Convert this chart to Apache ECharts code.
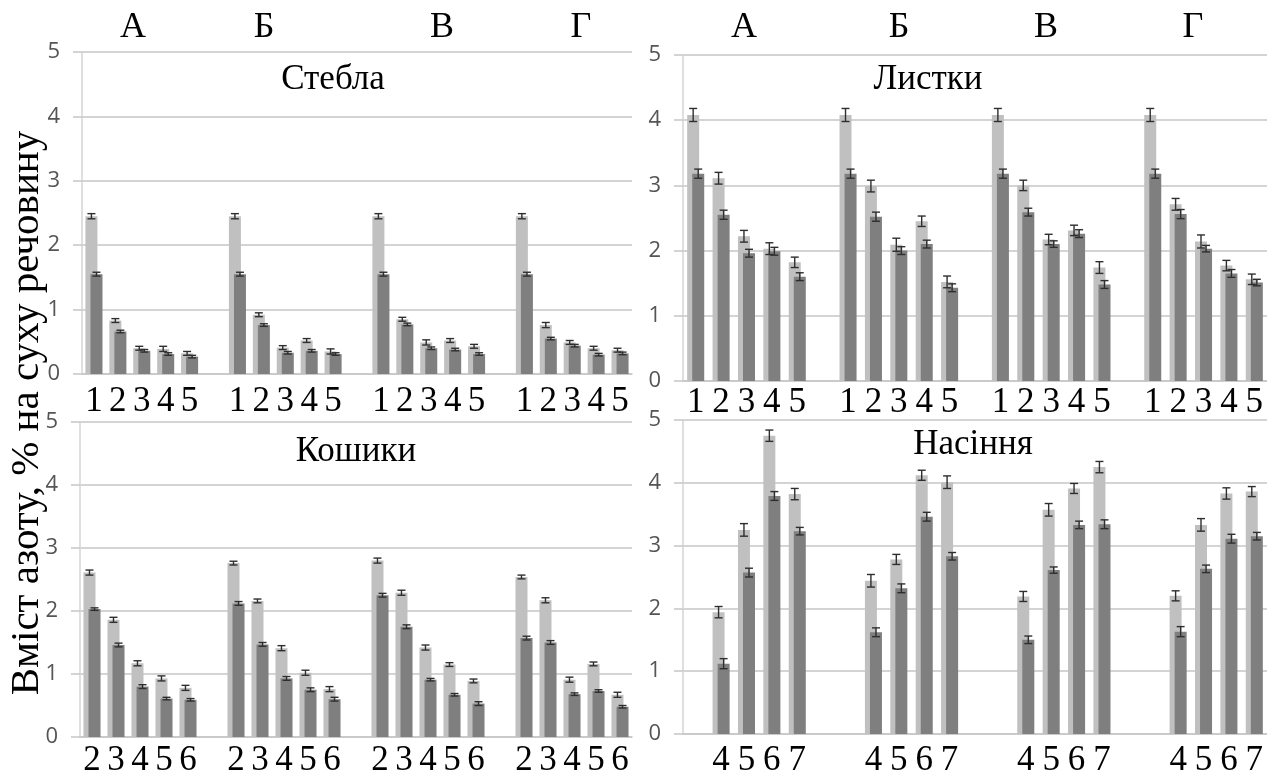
<!DOCTYPE html>
<html><head><meta charset="utf-8">
<script src="https://cdn.jsdelivr.net/npm/echarts@6/dist/echarts.min.js"></script>
<style>html,body{margin:0;padding:0;background:#fff}#c{width:1267px;height:778px}</style>
</head><body><div id="c"></div>
<script>
// ---------- data ----------
const groups = ['А', 'Б', 'В', 'Г'];
const yTitle = 'Вміст азоту, % на суху речовину';
const panelNames = ['Стебла', 'Листки', 'Кошики', 'Насіння'];
const yTicks = [0, 1, 2, 3, 4, 5];

// Стебла (stages 1-5, empty slot between groups)
const stemCats = ['1','2','3','4','5','', '1','2','3','4','5','', '1','2','3','4','5','', '1','2','3','4','5'];
const stemLight = [2.45,0.83,0.40,0.39,0.32,null, 2.45,0.92,0.41,0.52,0.35,null, 2.45,0.85,0.49,0.52,0.43,null, 2.45,0.76,0.49,0.40,0.37];
const stemDark  = [1.55,0.66,0.36,0.31,0.27,null, 1.55,0.76,0.33,0.36,0.31,null, 1.55,0.77,0.40,0.38,0.31,null, 1.55,0.55,0.44,0.30,0.32];
const stemLightErr = [0.04,0.03,0.03,0.04,0.03,null, 0.04,0.03,0.03,0.03,0.04,null, 0.04,0.03,0.04,0.03,0.03,null, 0.04,0.04,0.03,0.03,0.03];
const stemDarkErr  = [0.03,0.02,0.02,0.02,0.02,null, 0.03,0.02,0.02,0.02,0.02,null, 0.03,0.02,0.02,0.02,0.02,null, 0.03,0.02,0.02,0.02,0.02];

// Листки (stages 1-5)
const leafCats = ['1','2','3','4','5','', '1','2','3','4','5','', '1','2','3','4','5','', '1','2','3','4','5'];
const leafLight = [4.08,3.11,2.22,2.03,1.82,null, 4.08,2.99,2.09,2.45,1.52,null, 4.08,3.00,2.17,2.31,1.74,null, 4.08,2.71,2.14,1.77,1.56];
const leafDark  = [3.18,2.55,1.96,1.99,1.60,null, 3.18,2.52,2.00,2.10,1.43,null, 3.18,2.59,2.10,2.26,1.48,null, 3.18,2.56,2.03,1.65,1.51];
const leafLightErr = [0.10,0.09,0.09,0.09,0.08,null, 0.10,0.09,0.10,0.08,0.09,null, 0.10,0.08,0.08,0.08,0.09,null, 0.10,0.09,0.10,0.08,0.08];
const leafDarkErr  = [0.07,0.07,0.06,0.06,0.06,null, 0.07,0.07,0.06,0.06,0.06,null, 0.07,0.06,0.05,0.06,0.06,null, 0.07,0.07,0.05,0.06,0.05];

// Кошики (stages 2-6)
const headCats = ['2','3','4','5','6','', '2','3','4','5','6','', '2','3','4','5','6','', '2','3','4','5','6'];
const headLight = [2.61,1.86,1.17,0.93,0.78,null, 2.76,2.16,1.41,1.02,0.76,null, 2.80,2.29,1.42,1.15,0.89,null, 2.54,2.17,0.91,1.16,0.67];
const headDark  = [2.03,1.46,0.80,0.61,0.59,null, 2.12,1.47,0.93,0.75,0.60,null, 2.25,1.75,0.91,0.67,0.53,null, 1.57,1.50,0.68,0.73,0.48];
const headLightErr = [0.04,0.04,0.04,0.04,0.04,null, 0.03,0.03,0.04,0.04,0.04,null, 0.04,0.04,0.04,0.03,0.03,null, 0.03,0.04,0.04,0.03,0.04];
const headDarkErr  = [0.02,0.03,0.03,0.02,0.02,null, 0.03,0.03,0.03,0.03,0.03,null, 0.03,0.03,0.02,0.02,0.03,null, 0.03,0.03,0.02,0.02,0.02];

// Насіння (stages 4-7)
const seedCats = ['','4','5','6','7','', '','4','5','6','7','', '','4','5','6','7','', '','4','5','6','7'];
const seedLight = [null,1.94,3.25,4.75,3.82,null, null,2.44,2.78,4.12,4.01,null, null,2.19,3.57,3.91,4.25,null, null,2.20,3.33,3.83,3.86];
const seedDark  = [null,1.12,2.57,3.79,3.23,null, null,1.62,2.32,3.46,2.83,null, null,1.50,2.61,3.33,3.34,null, null,1.63,2.63,3.11,3.15];
const seedLightErr = [null,0.09,0.10,0.09,0.09,null, null,0.10,0.08,0.08,0.10,null, null,0.08,0.10,0.08,0.09,null, null,0.08,0.10,0.09,0.08];
const seedDarkErr  = [null,0.08,0.07,0.07,0.06,null, null,0.07,0.07,0.07,0.06,null, null,0.06,0.05,0.06,0.07,null, null,0.08,0.06,0.07,0.06];

// ---------- layout / style ----------
const LIGHT = '#c0c0c0', DARK = '#7f7f7f', GRIDC = '#c6c6c6';
const panels = [
  {cats: stemCats, light: stemLight, dark: stemDark, le: stemLightErr, de: stemDarkErr,
   grid: {left: 82, top: 52, width: 550, height: 322}, xm: 10, title: [333, 80]},
  {cats: leafCats, light: leafLight, dark: leafDark, le: leafLightErr, de: leafDarkErr,
   grid: {left: 683, top: 55, width: 584, height: 326}, xm: 4, title: [928, 80]},
  {cats: headCats, light: headLight, dark: headDark, le: headLightErr, de: headDarkErr,
   grid: {left: 80, top: 422, width: 552, height: 320}, xm: 6, title: [356, 452]},
  {cats: seedCats, light: seedLight, dark: seedDark, le: seedLightErr, de: seedDarkErr,
   grid: {left: 683, top: 420, width: 584, height: 320}, xm: 9, title: [973, 445]}
];
const headingX = [[133, 264, 442, 581], [744, 899, 1046, 1193]];
const headingY = 28;
const BW = 12, GAP = '-58%', OFF = 2.52;

function errRender(offset) {
  return function (params, api) {
    const idx = api.value(0), v = api.value(1), e = api.value(2);
    const top = api.coord([idx, v + e]);
    const bot = api.coord([idx, v - e]);
    const x = top[0] + offset, cap = 4;
    const st = {stroke: '#2e2e2e', lineWidth: 1.4};
    return {type: 'group', children: [
      {type: 'line', shape: {x1: x, y1: top[1], x2: x, y2: bot[1]}, style: st},
      {type: 'line', shape: {x1: x - cap, y1: top[1], x2: x + cap, y2: top[1]}, style: st},
      {type: 'line', shape: {x1: x - cap, y1: bot[1], x2: x + cap, y2: bot[1]}, style: st}
    ]};
  };
}
function errData(vals, errs) {
  const out = [];
  vals.forEach((v, i) => { if (v != null) out.push([i, v, errs[i]]); });
  return out;
}

const grids = [], xAxes = [], yAxes = [], series = [], graphics = [];
panels.forEach((p, i) => {
  grids.push(p.grid);
  xAxes.push({gridIndex: i, type: 'category', data: p.cats,
    axisTick: {show: false},
    axisLine: {lineStyle: {color: GRIDC, width: 1.5}},
    axisLabel: {interval: 0, fontFamily: 'Liberation Serif', fontSize: 35, color: '#000', margin: p.xm}});
  yAxes.push({gridIndex: i, type: 'value', min: yTicks[0], max: yTicks[yTicks.length - 1], interval: 1,
    axisLine: {show: true, lineStyle: {color: '#d4d4d4', width: 1.5}},
    axisTick: {show: true, length: 9, lineStyle: {color: GRIDC, width: 1.5}},
    splitLine: {lineStyle: {color: GRIDC, width: 1.5}},
    axisLabel: {fontFamily: 'Open Sans', fontSize: 22, color: '#555', margin: 22}});
  series.push({type: 'bar', xAxisIndex: i, yAxisIndex: i, data: p.light, barWidth: BW, barGap: GAP,
    itemStyle: {color: LIGHT}, silent: true});
  series.push({type: 'bar', xAxisIndex: i, yAxisIndex: i, data: p.dark, barWidth: BW, barGap: GAP,
    itemStyle: {color: DARK}, silent: true});
  series.push({type: 'custom', xAxisIndex: i, yAxisIndex: i, renderItem: errRender(-OFF),
    data: errData(p.light, p.le), z: 3, silent: true});
  series.push({type: 'custom', xAxisIndex: i, yAxisIndex: i, renderItem: errRender(OFF),
    data: errData(p.dark, p.de), z: 4, silent: true});
  graphics.push({type: 'text', x: p.title[0], y: p.title[1], z: 10,
    style: {text: panelNames[i], font: '35px "Liberation Serif"', fill: '#000',
      align: 'center', verticalAlign: 'middle', textAlign: 'center', textVerticalAlign: 'middle'}});
});
headingX.forEach(row => row.forEach((x, g) => {
  graphics.push({type: 'text', x: x, y: headingY, z: 10,
    style: {text: groups[g], font: '36px "Liberation Serif"', fill: '#000',
      align: 'center', verticalAlign: 'middle', textAlign: 'center', textVerticalAlign: 'middle'}});
}));
graphics.push({type: 'text', x: 27, y: 413, rotation: Math.PI / 2, z: 10,
  style: {text: yTitle, font: '41px "Liberation Serif"', fill: '#000',
    align: 'center', verticalAlign: 'middle', textAlign: 'center', textVerticalAlign: 'middle'}});

const chart = echarts.init(document.getElementById('c'), null, {renderer: 'canvas'});
chart.setOption({
  animation: false,
  backgroundColor: '#fff',
  grid: grids, xAxis: xAxes, yAxis: yAxes, series: series, graphic: graphics
});
</script>
</body></html>
